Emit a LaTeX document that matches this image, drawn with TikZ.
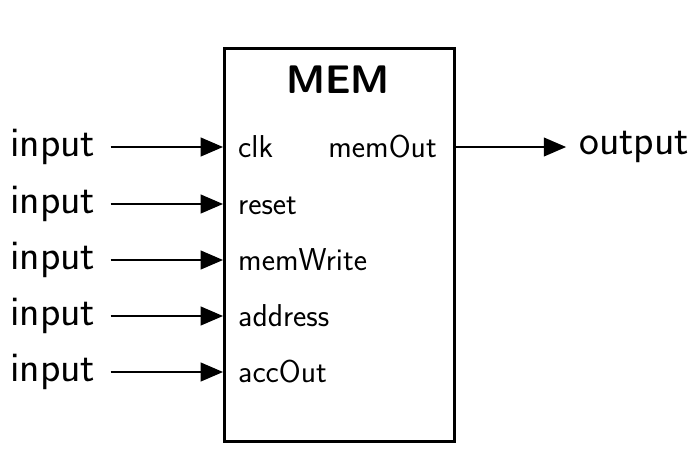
\documentclass[tikz,border=0pt]{standalone}
\usepackage{tikz}
\usetikzlibrary{arrows.meta, positioning, calc}
\renewcommand{\familydefault}{\sfdefault}
\tikzset{
	membox/.style={rectangle, draw, line width=2.8pt, inner sep=0pt, minimum width=6.9cm, minimum height=11.79cm},
	pin/.style={font=\fontsize{36}{42}\selectfont, inner sep=0pt, anchor=west},
	port/.style={font=\fontsize{27}{32}\selectfont, inner sep=0pt, anchor=base west},
	wire/.style={draw, line width=1.4pt, -{Triangle[length=19pt, width=16pt]}}
}

\begin{document}
\begin{tikzpicture}[x=0.03cm, y=-0.03cm]
	\useasboundingbox (0,0) rectangle (700,468);
	% memory block
	\node[membox, anchor=north west] (mem) at (223,47) {};
	\node[font=\bfseries\fontsize{34}{40}\selectfont, anchor=base] (title) at (338,93) {MEM};
	
	% inputs
	\foreach \name/\y in {clk/147, reset/204, memWrite/260, address/316, accOut/372} {
		\node[port] (\name) at (238,\y+10) {\name};
		\node[pin] (in-\name) at (10,\y) {input};
		\draw[wire, shorten <=13pt] (in-\name.east) -- (in-\name.east -| mem.west);
	}
	
	% output
	\node[port, anchor=base east] (memOut) at (437,157) {memOut};
	\node[pin] (out) at (579,147) {output};
	\draw[wire, shorten >=11pt] (out.west -| mem.east) -- (out.west);
\end{tikzpicture}
\end{document}
